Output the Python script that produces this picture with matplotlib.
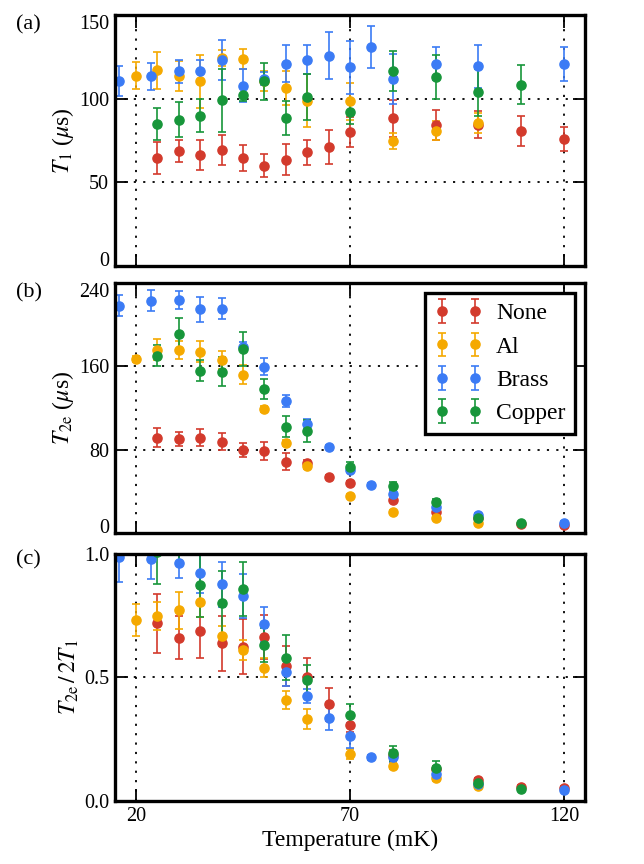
import numpy as np
import matplotlib
matplotlib.use('Agg')
import matplotlib.pyplot as plt

plt.rcParams['font.family'] = ['Liberation Serif', 'DejaVu Serif']
plt.rcParams['mathtext.fontset'] = 'stix'

labels = ['None', 'Al', 'Brass', 'Copper']
colors = ['#D33A2C', '#F5A900', '#3B7BF5', '#17963A']

# temperatures (mK) for each sample
t_none = [25, 30, 35, 40, 45, 50, 55, 60, 65, 70, 80, 90, 100, 110, 120]
t_al = [20, 25, 30, 35, 40, 45, 50, 55, 60, 70, 80, 90, 100]
t_brass = [16, 23.5, 30, 35, 40, 45, 50, 55, 60, 65, 70, 75, 80, 90, 100, 120]
t_copper = [25, 30, 35, 40, 45, 50, 55, 60, 70, 80, 90, 100, 110]

# (a) T1 (us)
t1_none = [64.4, 68.4, 66.4, 69.4, 64.4, 59.8, 63.4, 67.8, 71.0, 79.8, 88.2, 84.2, 84.4, 80.8, 75.8]
t1_none_err = [9.4, 6.6, 9, 9, 7.6, 7, 9.4, 7.7, 10, 9, 11, 9, 8, 9, 7.2]
t1_al = [113.8, 117, 113.8, 110.4, 124.4, 123.8, 110.4, 106.4, 98.8, 98.4, 74.6, 80.8, 85.4]
t1_al_err = [8, 11, 9, 16, 5, 6, 6, 10, 16, 11, 4.6, 5.6, 6]
t1_brass = [110.4, 113.4, 116.4, 116.4, 123.4, 107.8, 112, 121, 123.4, 125.8, 118.8, 131, 111.8, 121, 119.4, 120.8]
t1_brass_err = [9, 8, 7, 7, 12, 10, 4, 11, 8.5, 14, 16, 12.7, 15, 10, 13, 10.4]
t1_copper = [84.8, 87.4, 89.8, 99, 102.4, 110.4, 88.4, 101, 92, 116.4, 113, 103.8, 108.4]
t1_copper_err = [9.4, 10.5, 10, 19, 4, 11, 10, 14, 7, 12, 13, 14, 11.5]

# (b) T2e (us)
t2_none = [91.7, 90.4, 91.7, 87.9, 79.9, 78.9, 68.7, 67.7, 54.3, 47.9, 31.9, 20.8, 15.0, 8.6, 8.0]
t2_none_err = [9, 7, 8, 8, 7, 9, 8, 3, 2, 2, 2, 2, 2, 1.5, 1.5]
t2_al = [166.8, 175.7, 175.7, 174.1, 166.1, 151.8, 118.8, 86.3, 64.5, 36.1, 20.8, 14.4, 9.6]
t2_al_err = [3, 10, 9, 10, 9, 9, 3, 3, 3, 2, 2, 1.5, 1.5]
t2_brass = [217.9, 222.7, 223.6, 214.7, 215, 178.9, 159.7, 126.8, 104.8, 83.1, 60.7, 46.3, 37.7, 25.6, 17.6, 10.2]
t2_brass_err = [10, 10, 9, 12, 10, 4, 8, 6, 5, 2, 2, 2, 2, 2, 1.5, 1.5]
t2_copper = [170.3, 191, 155.9, 155, 176.7, 138.3, 102.2, 98.4, 63.9, 45.4, 29.7, 14.4, 9.6]
t2_copper_err = [10, 15, 10, 14, 16, 10, 10, 10.5, 4, 4, 3, 2, 1.5]

# (c) T2e / 2T1
r_none = [0.719, 0.661, 0.688, 0.638, 0.625, 0.663, 0.547, 0.503, 0.391, 0.308, 0.186, 0.128, 0.085, 0.055, 0.054]
r_none_err = [0.12, 0.087, 0.11, 0.11, 0.11, 0.09, 0.08, 0.074, 0.067, 0.03, 0.02, 0.015, 0.01, 0.008, 0.008]
r_al = [0.733, 0.75, 0.771, 0.804, 0.668, 0.611, 0.54, 0.409, 0.332, 0.189, 0.143, 0.092, 0.061]
r_al_err = [0.066, 0.056, 0.075, 0.06, 0.04, 0.04, 0.037, 0.036, 0.04, 0.02, 0.012, 0.01, 0.008]
r_brass = [0.987, 0.98, 0.962, 0.922, 0.877, 0.83, 0.715, 0.524, 0.425, 0.335, 0.265, 0.177, 0.177, 0.108, 0.069, 0.045]
r_brass_err = [0.1, 0.08, 0.06, 0.08, 0.09, 0.09, 0.07, 0.06, 0.03, 0.047, 0.05, 0.01, 0.02, 0.015, 0.01, 0.008]
r_copper = [1.007, 1.06, 0.875, 0.8, 0.857, 0.632, 0.58, 0.49, 0.348, 0.193, 0.135, 0.074, 0.047]
r_copper_err = [0.13, 0.1, 0.13, 0.13, 0.11, 0.07, 0.09, 0.06, 0.045, 0.03, 0.025, 0.01, 0.008]

temps = [t_none, t_al, t_brass, t_copper]
panels = [
    ([t1_none, t1_al, t1_brass, t1_copper],
     [t1_none_err, t1_al_err, t1_brass_err, t1_copper_err],
     r'$T_1$ ($\mu$s)', [0, 150], [0, 50, 100, 150], '(a)'),
    ([t2_none, t2_al, t2_brass, t2_copper],
     [t2_none_err, t2_al_err, t2_brass_err, t2_copper_err],
     r'$T_{2\mathrm{e}}$ ($\mu$s)', [0, 240], [0, 80, 160, 240], '(b)'),
    ([r_none, r_al, r_brass, r_copper],
     [r_none_err, r_al_err, r_brass_err, r_copper_err],
     r'$T_{2\mathrm{e}}\,/\,2T_1$', [0, 1.0], [0.0, 0.5, 1.0], '(c)'),
]

fig = plt.figure(figsize=(6.44, 8.64), dpi=100)

rects = [
    [0.178, 0.6925, 0.731, 0.290],
    [0.178, 0.3827, 0.731, 0.290],
    [0.178, 0.0729, 0.731, 0.286],
]
label_y = [1 - 25 / 864, 1 - 293 / 864, 1 - 560 / 864]

for k, (vals, errs, ylabel, ylim, yticks, tag) in enumerate(panels):
    ax = fig.add_axes(rects[k])
    for i in range(4):
        ax.errorbar(temps[i], vals[i], yerr=errs[i], fmt='o',
                    color=colors[i], markersize=6.6, markeredgecolor=colors[i],
                    elinewidth=1.2, capsize=3, capthick=1.2,
                    label=labels[i])

    ax.set_xlim(15, 125)
    ax.set_ylim(ylim)
    ax.set_xticks([20, 70, 120])
    ax.set_yticks(yticks)
    if k == 2:
        ax.set_yticklabels(['%.1f' % v for v in yticks])
        ax.set_xlabel('Temperature (mK)', fontsize=17, labelpad=3)
    else:
        ax.set_xticklabels([])
    ax.set_ylabel(ylabel, fontsize=17, labelpad=2)

    ax.grid(True, color='black', linestyle=(0, (1.2, 4)), linewidth=1.3)
    ax.tick_params(direction='in', length=9, width=1.3, top=True, right=True,
                   labelsize=14.5, pad=4)
    for sp in ax.spines.values():
        sp.set_linewidth(2.4)

    # end labels of the upper panels sit inside the axis range
    if k < 2:
        ylabs = ax.get_yticklabels()
        ylabs[0].set_verticalalignment('baseline')
        ylabs[-1].set_verticalalignment('top')

    fig.text(0.025, label_y[k], tag, fontsize=16, va='center', ha='left')

    if k == 1:
        leg = ax.legend(loc='upper right', numpoints=2, fontsize=17,
                        fancybox=False, framealpha=1, edgecolor='black',
                        borderaxespad=0.45, handletextpad=0.6,
                        labelspacing=0.5, borderpad=0.4)
        leg.get_frame().set_linewidth(2.4)

fig.savefig('out.png', dpi=100)
